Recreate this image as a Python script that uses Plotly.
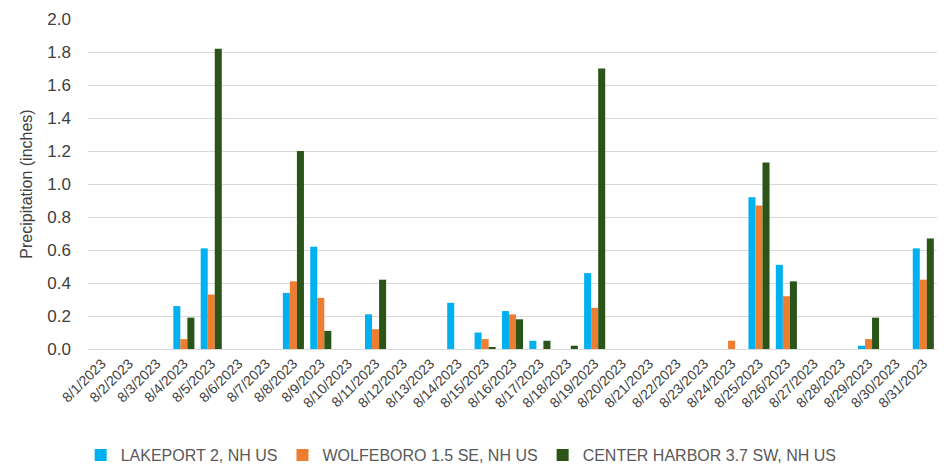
import plotly.graph_objects as go

dates = [f"8/{d}/2023" for d in range(1, 32)]

lakeport = [0, 0, 0, 0.26, 0.61, 0, 0, 0.34, 0.62, 0, 0.21, 0, 0, 0.28, 0.10, 0.23,
            0.05, 0, 0.46, 0, 0, 0, 0, 0, 0.92, 0.51, 0, 0, 0.02, 0, 0.61]
wolfeboro = [0, 0, 0, 0.06, 0.33, 0, 0, 0.41, 0.31, 0, 0.12, 0, 0, 0, 0.06, 0.21,
             0, 0, 0.25, 0, 0, 0, 0, 0.05, 0.87, 0.32, 0, 0, 0.06, 0, 0.42]
center_harbor = [0, 0, 0, 0.19, 1.82, 0, 0, 1.20, 0.11, 0, 0.42, 0, 0, 0, 0.01, 0.18,
                 0.05, 0.02, 1.70, 0, 0, 0, 0, 0, 1.13, 0.41, 0, 0, 0.19, 0, 0.67]

series = [
    ("LAKEPORT 2, NH US", lakeport, "#00B0F0"),
    ("WOLFEBORO 1.5 SE, NH US", wolfeboro, "#ED7D31"),
    ("CENTER HARBOR 3.7 SW, NH US", center_harbor, "#2A5418"),
]

fig = go.Figure()
for name, vals, color in series:
    fig.add_trace(go.Bar(x=dates, y=vals, name=name, marker_color=color,
                         marker_line_width=0))

fig.update_layout(
    width=947, height=472,
    margin=dict(l=88, r=10, t=19, b=123, autoexpand=False),
    paper_bgcolor="white", plot_bgcolor="white",
    barmode="group", bargap=0.23, bargroupgap=0,
    font=dict(family="Liberation Sans, Arial, sans-serif", color="#595959"),
    showlegend=True,
    legend=dict(orientation="h", xref="container", yref="container",
                x=0.487, xanchor="center", y=-0.015, yanchor="bottom",
                font=dict(size=16, color="#595959"),
                itemwidth=30, traceorder="normal"),
)
fig.update_xaxes(type="category", tickangle=-45, tickfont=dict(size=14, color="#404040"),
                 showline=True, linecolor="#D9D9D9", linewidth=1, showgrid=False, ticks="",
                 automargin=False)
fig.update_yaxes(range=[0, 2.0], dtick=0.2, tickformat=".1f", showgrid=True, gridcolor="#D9D9D9",
                 gridwidth=1, zeroline=False, tickfont=dict(size=17, color="#404040"),
                 ticklabelstandoff=16,
                 title=dict(text="Precipitation (inches)", font=dict(size=16, color="#404040"), standoff=10),
                 ticks="", showline=False, automargin=False)

fig.write_html("out.html", config={"displayModeBar": False},
               post_script="document.body.style.margin='0';document.body.style.overflow='hidden';")
